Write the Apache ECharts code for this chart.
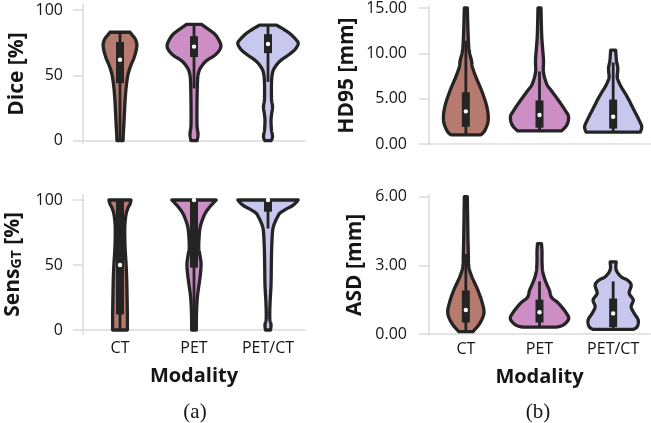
<!DOCTYPE html>
<html>
<head>
<meta charset="utf-8">
<script src="https://cdn.jsdelivr.net/npm/echarts@6/dist/echarts.min.js"></script>
<style>
html,body{margin:0;padding:0;background:#fff;}
#chart{width:651px;height:423px;}
</style>
</head>
<body>
<div id="chart"></div>
<script>
// ---------------- DATA ----------------
const categories = ['CT', 'PET', 'PET/CT'];
const fillColors = ['#b77a6e', '#cc8ec4', '#c8c8ef'];

// Violin profiles: [value, relative density (half width)]
const diceCT    = [[0,3],[5,3.3],[15,4],[30,5],[40,6],[50,7.8],[57,10.5],[63,13.7],[69,16],[74,16.7],[78,15],[81,12],[83,10]];
const dicePET   = [[0,3],[5,4],[12,3],[30,3],[46,3.5],[52,4.5],[56,6.7],[61,12],[65,20],[69,25],[73,26.7],[78,24],[82,20],[86,13],[89,7.5]];
const dicePETCT = [[0,3],[3,4.5],[8,3.5],[15,3],[20,3.5],[26,4.5],[32,3.5],[45,3.5],[52,4.5],[56,6.7],[61,12],[66,21],[70,27],[74.5,30],[78,27],[82,21.7],[85.5,15],[88.5,8.3]];

const sensCT    = [[0,7.3],[13,7.3],[38,6.7],[51,6],[64,5],[77,4.7],[85,5.3],[90,6.3],[94,8],[97,10],[100,11]];
const sensPET   = [[0,2.3],[13,2.5],[25,3.3],[35,5],[44,6.5],[51,7],[57,6],[64,4.7],[77,5.7],[84,8],[90,11.3],[95,16],[100,22]];
const sensPETCT = [[0,2.5],[4,3],[9,1.8],[20,2],[35,3],[50,3.3],[64,3.7],[77,4.7],[83,7],[87,9.5],[90,12],[93,18],[96,25],[100,30]];

const hdCT      = [[1.0,15],[1.5,19],[2.6,22.3],[4.1,21],[5.9,15.7],[7.4,10],[8.5,6.5],[9.2,5.7],[10.3,3.3],[12,2.3],[15,1.5]];
const hdPET     = [[1.45,22],[2.1,27.3],[3.0,29],[3.7,25.7],[4.8,19],[5.9,11.7],[6.6,7.3],[7.9,4],[9.2,4],[10.3,3.3],[12,2.2],[15,1.5]];
const hdPETCT   = [[1.3,27],[1.9,28.5],[2.6,26],[3.7,21],[5.2,14],[6.3,8],[7.0,5],[7.4,4],[8.0,4.5],[8.5,4.5],[9.0,3.5],[9.5,3],[10.35,2.5]];

const asdCT     = [[0.1,7],[0.47,14],[0.9,18],[1.34,16.5],[1.92,12],[2.5,6],[2.94,3],[3.5,2.5],[4.5,2],[6.0,1.5]];
const asdPET    = [[0.3,17],[0.4,24],[0.65,29],[0.9,27],[1.34,19],[1.6,12],[1.9,10],[2.2,7],[2.5,4.5],[2.8,3],[3.2,2.5],[3.6,2.5],[3.95,2]];
const asdPETCT  = [[0.2,20],[0.32,24],[0.61,25],[0.9,21],[1.19,18],[1.49,20],[1.78,16],[2.14,18],[2.36,14],[2.5,8],[2.8,3],[3.15,3]];

// Box stats per category: [whiskerLow, q1, median, q3, whiskerHigh]
const diceBox = [[0,44,62,75.5,83],[40,64,72,80,89],[45,67,74,81.5,88.5]];
const sensBox = [[0,12,50,100,100],[0,48,100,100,100],[78,91,100,100,100]];
const hdBox   = [[1.0,1.9,3.6,5.7,11.4],[1.45,1.8,3.2,4.8,8.0],[1.3,1.7,3.0,4.9,9.0]];
const asdBox  = [[0.1,0.5,1.05,1.9,3.5],[0.3,0.5,0.95,1.5,2.3],[0.2,0.3,0.9,1.55,2.3]];

// Tick values
const diceTicks = [0, 50, 100];
const sensTicks = [0, 50, 100];
const hdTicks   = [0, 5, 10, 15];
const asdTicks  = [0, 3, 6];

// ---------------- RENDER ----------------
const DENSITY_PER_BAND = 73.5;
const INK = '#242424';
const TXT = '#151515';
const FONT = 'Open Sans';

function catmull(p0, p1, p2, p3, t) {
  const t2 = t * t, t3 = t2 * t;
  return 0.5 * ((2 * p1) + (-p0 + p2) * t + (2 * p0 - 5 * p1 + 4 * p2 - p3) * t2 + (-p0 + 3 * p1 - 3 * p2 + p3) * t3);
}
function smoothProfile(prof) {
  const out = [];
  const n = prof.length;
  for (let k = 0; k < n - 1; k++) {
    const a = prof[Math.max(k - 1, 0)], b = prof[k], c = prof[k + 1], d = prof[Math.min(k + 2, n - 1)];
    for (let s = 0; s < 8; s++) {
      const t = s / 8;
      out.push([catmull(a[0], b[0], c[0], d[0], t), Math.max(0.3, catmull(a[1], b[1], c[1], d[1], t))]);
    }
  }
  out.push(prof[n - 1]);
  return out;
}

function violinSeries(gridIndex, profiles, boxes) {
  return {
    type: 'custom',
    xAxisIndex: gridIndex,
    yAxisIndex: gridIndex,
    silent: true,
    data: categories.map((c, i) => [i]),
    renderItem: function (params, api) {
      const i = api.value(0);
      const prof = smoothProfile(profiles[i]);
      const band = api.size([1, 0])[0];
      const k = band / DENSITY_PER_BAND;
      const right = [], left = [];
      prof.forEach(p => {
        const pt = api.coord([i, p[0]]);
        right.push([pt[0] + p[1] * k, pt[1]]);
        left.push([pt[0] - p[1] * k, pt[1]]);
      });
      const pts = right.concat(left.reverse());
      const b = boxes[i];
      const cx = api.coord([i, 0])[0];
      const yLo = api.coord([i, b[0]])[1];
      const yQ1 = api.coord([i, b[1]])[1];
      const yMed = api.coord([i, b[2]])[1];
      const yQ3 = api.coord([i, b[3]])[1];
      const yHi = api.coord([i, b[4]])[1];
      const bw = 8;
      return {
        type: 'group',
        children: [
          { type: 'polygon', shape: { points: pts },
            style: { fill: fillColors[i], stroke: INK, lineWidth: 3.3, lineJoin: 'round' } },
          { type: 'line', shape: { x1: cx, y1: yLo, x2: cx, y2: yHi },
            style: { stroke: INK, lineWidth: 2.8 } },
          { type: 'rect', shape: { x: cx - bw / 2, y: yQ3, width: bw, height: Math.max(yQ1 - yQ3, 1) },
            style: { fill: INK } },
          { type: 'circle', shape: { cx: cx, cy: yMed, r: 2.2 },
            style: { fill: '#ffffff' } }
        ]
      };
    }
  };
}

const axisLineStyle = { color: '#dcdcdc', width: 1.6 };

function xAxisDef(gridIndex, showLabels) {
  return {
    type: 'category',
    gridIndex: gridIndex,
    data: categories,
    boundaryGap: true,
    axisLine: { show: true, lineStyle: axisLineStyle },
    axisTick: { show: false },
    axisLabel: { show: showLabels, color: TXT, fontFamily: FONT, fontSize: 16, margin: 7 },
    splitLine: { show: false },
    name: showLabels ? 'Modality' : '',
    nameLocation: 'middle',
    nameGap: 32,
    nameTextStyle: { color: TXT, fontFamily: FONT, fontSize: 20, fontWeight: 'bold' }
  };
}

function yAxisDef(gridIndex, min, max, ticks, fmt, name, nameGap, margin, rich) {
  const ax = {
    type: 'value',
    gridIndex: gridIndex,
    min: min, max: max,
    axisLine: { show: true, lineStyle: axisLineStyle },
    axisTick: { show: true, length: 10, lineStyle: axisLineStyle, customValues: ticks },
    axisLabel: { color: TXT, fontFamily: FONT, fontSize: 16, margin: margin,
                 customValues: ticks, formatter: fmt },
    splitLine: { show: false },
    name: name,
    nameLocation: 'middle',
    nameRotate: 90,
    nameGap: nameGap,
    nameTextStyle: { color: TXT, fontFamily: FONT, fontSize: 21, fontWeight: 'bold' }
  };
  if (rich) ax.nameTextStyle.rich = rich;
  return ax;
}

const chart = echarts.init(document.getElementById('chart'), null, { renderer: 'canvas' });

const option = {
  backgroundColor: '#ffffff',
  animation: false,
  grid: [
    { left: 83, top: 4.8, width: 222, height: 138.5 },
    { left: 83, top: 194.8, width: 222, height: 139.1 },
    { left: 429, top: 4.9, width: 221, height: 140 },
    { left: 429, top: 194.9, width: 221, height: 140 }
  ],
  xAxis: [xAxisDef(0, false), xAxisDef(1, true), xAxisDef(2, false), xAxisDef(3, true)],
  yAxis: [
    yAxisDef(0, -2, 104, diceTicks, v => String(Math.round(v)), 'Dice [%]', 55, 20),
    yAxisDef(1, -3, 104, sensTicks, v => String(Math.round(v)),
      '{a|Sens}{b|GT}{a| [%]}', 59, 20,
      { a: { fontFamily: FONT, fontSize: 21, fontWeight: 'bold', color: TXT, verticalAlign: 'bottom', lineHeight: 26 },
        b: { fontFamily: FONT, fontSize: 14, fontWeight: 'bold', color: TXT, verticalAlign: 'bottom', lineHeight: 25 } }),
    yAxisDef(2, -0.1, 15.2, hdTicks, v => Number(v).toFixed(2), 'HD95 [mm]', 71, 22),
    yAxisDef(3, -0.04, 6.08, asdTicks, v => Number(v).toFixed(2), 'ASD [mm]', 63, 22)
  ],
  series: [
    violinSeries(0, [diceCT, dicePET, dicePETCT], diceBox),
    violinSeries(1, [sensCT, sensPET, sensPETCT], sensBox),
    violinSeries(2, [hdCT, hdPET, hdPETCT], hdBox),
    violinSeries(3, [asdCT, asdPET, asdPETCT], asdBox)
  ],
  graphic: [
    { type: 'text', x: 195, y: 412,
      style: { text: '(a)', fontFamily: 'Liberation Serif', fontSize: 21, fill: TXT, align: 'center', verticalAlign: 'middle' } },
    { type: 'text', x: 538, y: 412,
      style: { text: '(b)', fontFamily: 'Liberation Serif', fontSize: 21, fill: TXT, align: 'center', verticalAlign: 'middle' } }
  ]
};
chart.setOption(option);
</script>
</body>
</html>
